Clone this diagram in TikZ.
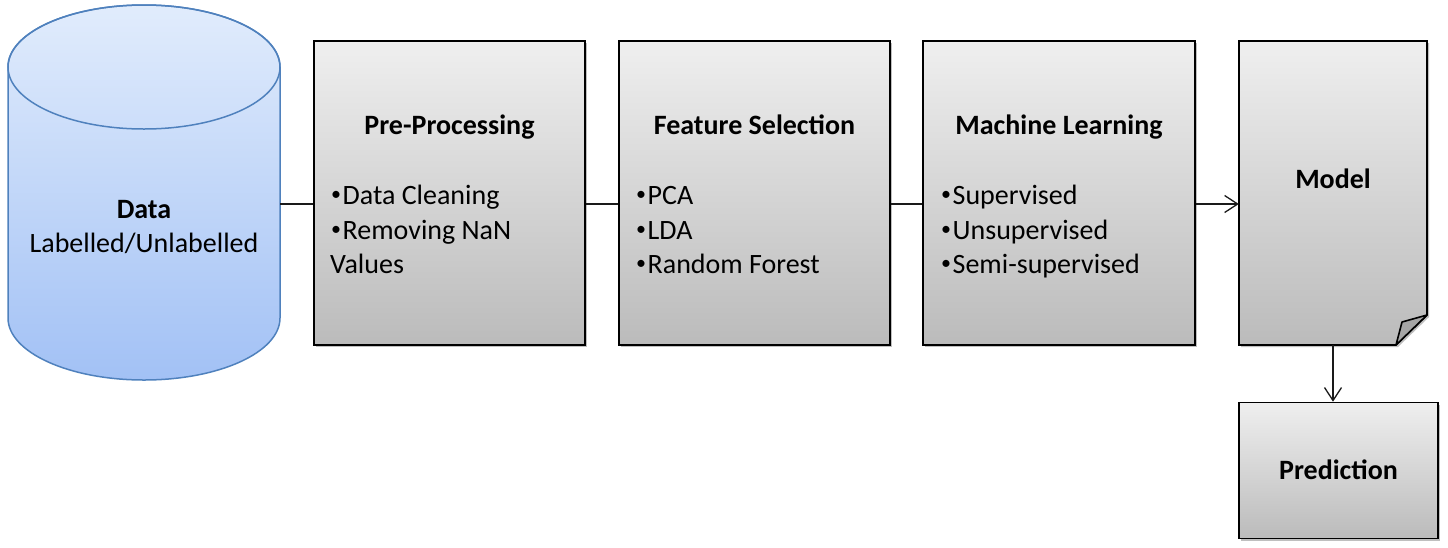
\documentclass[tikz,border=0pt]{standalone}
\usepackage{fontspec}
\setmainfont{Carlito}
\usetikzlibrary{arrows.meta,shadows,calc}
\definecolor{boxtop}{HTML}{EFEFEF}
\definecolor{boxbot}{HTML}{BBBBBB}
\definecolor{cyltop}{HTML}{E1ECFC}
\definecolor{cylbot}{HTML}{A2C1F5}
\definecolor{cylline}{HTML}{4F81BD}
\definecolor{foldgray}{HTML}{A6A6A6}
\definecolor{connline}{HTML}{1A1A1A}
\newcommand{\bulmark}{\raisebox{3.5pt}{\fontsize{20}{20}\selectfont•}\hspace{1.5pt}}
\begin{document}
\begin{tikzpicture}[x=1pt,y=-1pt,
  boxshadow/.style={drop shadow={shadow xshift=2pt, shadow yshift=-2pt, opacity=0.25, fill=black}},
  stagebox/.style={draw=black, line width=1.6pt, top color=boxtop, bottom color=boxbot, inner sep=0pt, boxshadow},
  anchorbox/.style={inner sep=0pt},
  titletext/.style={font=\fontsize{28}{34}\selectfont\bfseries, anchor=base, inner sep=0pt},
  itemtext/.style={font=\fontsize{28}{34}\selectfont, anchor=base west, inner sep=0pt},
  conn/.style={draw=connline, line width=1.3pt},
  arrowconn/.style={conn, -{Straight Barb[length=13pt, width=17pt, line width=1.3pt]}}
]
\useasboundingbox (0,0) rectangle (1448,547);

% cylinder (data store)
\path[top color=cyltop, bottom color=cylbot, draw=cylline, line width=1.5pt]
  (8,67) -- (8,318) arc[start angle=180, end angle=0, x radius=136, y radius=62]
  -- (280,67) arc[start angle=0, end angle=-180, x radius=136, y radius=62] -- cycle;
\draw[cylline, line width=1.5pt] (144,67) ellipse [x radius=136, y radius=62];
\node[anchorbox, minimum width=272pt, minimum height=375pt] (data) at (144,192.5) {};
\node[titletext] (datatitle) at (144,218) {Data};
\node[font=\fontsize{28}{34}\selectfont, anchor=base, inner sep=0pt] (datasub) at (144,252) {Labelled/Unlabelled};
\coordinate (lvl) at (280,204);

% stage boxes
\node[stagebox, minimum width=271pt, minimum height=304pt] (pre) at (449.5,193) {};
\node[stagebox, minimum width=271pt, minimum height=304pt] (feat) at (754.5,193) {};
\node[stagebox, minimum width=272pt, minimum height=304pt] (ml) at (1059,193) {};

\node[titletext] (pret) at (pre.center |- 0,134) {Pre-Processing};
\node[itemtext] (pre1) at (331,204) {\bulmark Data Cleaning};
\node[itemtext] (pre2) at (331,239) {\bulmark Removing NaN};
\node[itemtext] (pre3) at (330,273) {Values};

\node[titletext] (featt) at (feat.center |- 0,134) {Feature Selection};
\node[itemtext] (feat1) at (636,204) {\bulmark PCA};
\node[itemtext] (feat2) at (636,239) {\bulmark LDA};
\node[itemtext] (feat3) at (636,273) {\bulmark Random Forest};

\node[titletext] (mlt) at (ml.center |- 0,134) {Machine Learning};
\node[itemtext] (ml1) at (941,204) {\bulmark Supervised};
\node[itemtext] (ml2) at (941,239) {\bulmark Unsupervised};
\node[itemtext] (ml3) at (941,273) {\bulmark Semi-supervised};

% model (document shape)
\path[draw=black, line width=1.6pt, top color=boxtop, bottom color=boxbot, line join=miter, boxshadow]
  (1239,41) -- (1427,41) -- (1427,315) -- (1396,345) -- (1239,345) -- cycle;
\filldraw[fill=foldgray, draw=black, line width=1.6pt, line join=round]
  (1427,315) -- (1402,322) -- (1396,345) -- cycle;
\node[anchorbox, minimum width=188pt, minimum height=304pt] (model) at (1333,193) {};
\node[titletext] (modelt) at (1333,188) {Model};

% prediction
\node[stagebox, minimum width=199pt, minimum height=136pt] (pred) at (1338.5,470.5) {};
\node[titletext] (predt) at (pred.center |- 0,479) {Prediction};

% connectors
\draw[conn] (lvl) -- (pre.west |- lvl);
\draw[conn] (pre.east |- lvl) -- (feat.west |- lvl);
\draw[conn] (feat.east |- lvl) -- (ml.west |- lvl);
\draw[arrowconn] (ml.east |- lvl) -- (model.west |- lvl);
\draw[arrowconn] (model.south) -- (model.south |- pred.north);
\end{tikzpicture}
\end{document}
